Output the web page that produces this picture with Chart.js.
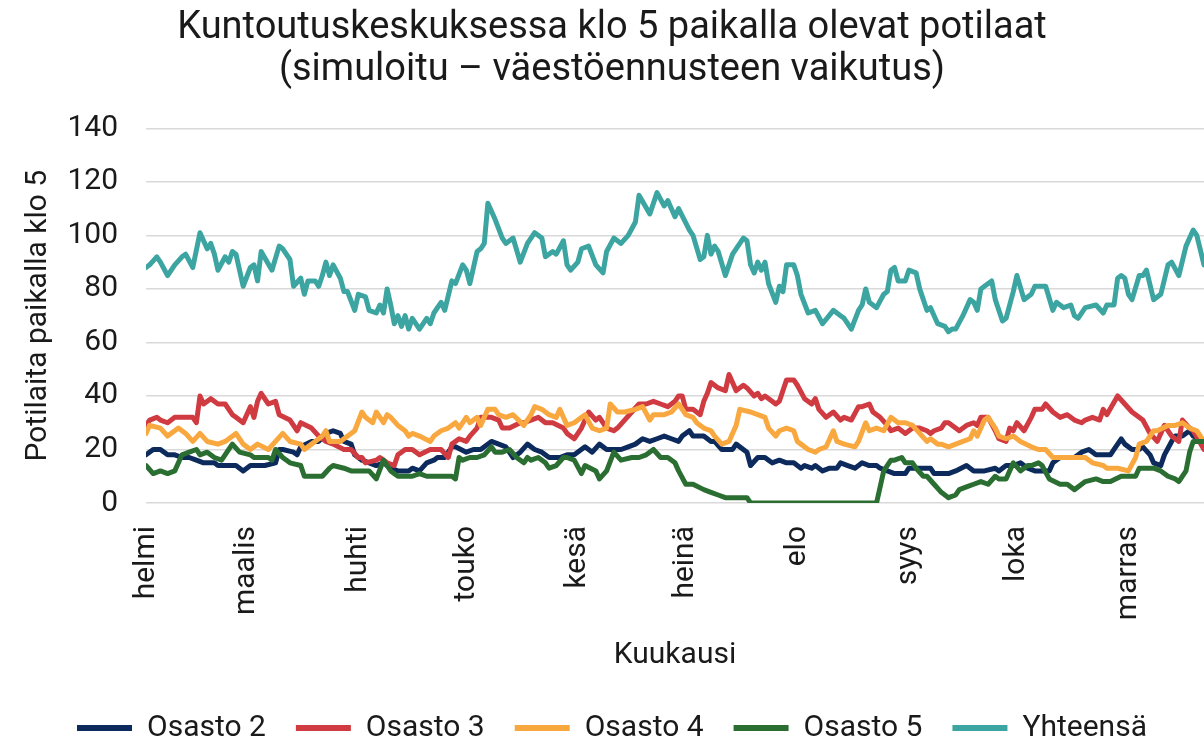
<!DOCTYPE html>
<html>
<head>
<meta charset="utf-8">
<script src="https://cdn.jsdelivr.net/npm/chart.js@4.4.1/dist/chart.umd.min.js"></script>
<style>
  html, body { margin: 0; padding: 0; background: #fff; }
  #wrap { width: 1204px; height: 744px; }
</style>
</head>
<body>
<div id="wrap"><canvas id="myChart" width="1204" height="744"></canvas></div>
<script>
// x = day counted from 1 Feb (0 = helmikuun 1. päivä)
const monthStarts = [0, 28, 59, 89, 120, 150, 181, 212, 242, 273];
const monthNames = ['helmi', 'maalis', 'huhti', 'touko', 'kesä', 'heinä', 'elo', 'syys', 'loka', 'marras'];

// Osasto 2
const days2 = [0,2,4,6,8,10,12,14,16,17,19,20,23,25,27,29,31,33,36,37,38,41,42,43,46,48,50,52,54,55,57,58,60,62,64,66,68,70,73,74,76,78,80,81,83,85,86,89,91,93,96,98,100,102,104,106,108,110,112,115,117,119,122,124,126,128,130,132,134,136,138,140,142,144,146,148,149,151,152,154,155,157,158,160,162,163,164,167,168,170,172,173,174,176,178,180,182,183,185,186,188,190,192,193,195,197,199,201,203,204,206,208,211,212,214,216,218,219,221,223,225,228,230,231,233,236,237,239,241,243,245,247,249,251,252,254,256,258,260,262,264,266,268,269,271,272,274,276,277,279,280,282,283,285,286,288,290,291,294];
const osasto2 = [18,20,20,18,18,17,17,16,15,15,15,14,14,14,12,14,14,14,15,20,20,19,18,21,23,23,26,27,26,23,22,18,16,15,14,15,13,12,12,13,12,15,16,17,17,21,21,19,20,20,23,22,21,17,19,22,20,19,17,17,18,18,21,19,22,20,20,20,21,22,24,23,24,25,24,23,25,27,25,25,25,23,23,20,20,20,22,19,14,17,17,16,15,16,15,15,13,14,13,14,12,13,13,15,14,13,15,14,14,13,12,11,11,13,13,13,13,11,11,11,12,14,12,12,12,13,12,14,14,15,13,12,12,12,15,17,17,17,19,20,18,18,18,20,24,22,20,20,21,18,15,14,18,23,25,25,27,25,23];

// Osasto 3
const days3 = [0,1,3,4,6,8,11,13,14,15,16,18,20,22,24,25,27,29,30,31,32,34,36,37,40,42,43,46,48,50,52,55,57,59,60,61,64,65,67,69,70,71,72,74,76,79,82,84,85,87,89,90,92,93,96,98,99,101,104,105,107,109,111,113,116,117,119,121,123,125,126,128,130,131,133,135,137,139,141,143,145,147,148,149,150,152,154,155,156,157,159,161,162,164,166,167,169,170,171,172,174,175,176,178,180,181,183,185,186,187,189,191,193,194,196,198,199,201,202,204,206,207,209,211,213,215,217,218,219,221,222,223,226,228,230,231,232,234,236,237,239,240,241,242,244,246,247,249,250,252,254,256,258,260,261,263,265,266,267,270,272,274,277,279,281,283,285,287,288,290,291,294];
const osasto3 = [29,31,32,31,30,32,32,32,30,40,37,39,37,37,33,32,30,36,32,38,41,37,38,33,31,27,30,28,25,23,22,20,20,17,17,15,16,17,15,14,18,19,20,20,18,20,20,17,22,24,23,25,28,32,32,31,28,28,30,30,31,32,30,30,28,26,24,28,34,31,32,28,27,28,31,34,37,37,38,37,36,38,40,40,35,35,33,38,41,45,43,42,48,42,44,43,40,41,39,40,38,37,38,46,46,44,39,37,39,35,32,34,31,32,31,36,36,37,34,32,29,27,28,26,28,28,27,26,27,28,30,30,27,29,30,29,32,32,27,24,23,28,27,30,27,32,35,35,37,34,32,33,31,30,31,32,31,35,33,40,37,34,31,26,23,29,25,23,31,28,27,20];

// Osasto 4
const days4 = [0,1,4,6,9,11,13,15,17,20,22,25,27,29,31,34,36,38,40,43,44,46,47,49,50,51,54,55,57,58,60,61,63,64,66,67,68,70,72,73,74,76,79,80,82,84,86,87,89,90,92,93,95,97,98,100,102,105,107,108,110,112,114,115,117,119,122,124,126,128,129,131,133,136,138,140,141,144,146,148,150,152,153,155,157,158,160,162,164,165,168,170,172,173,175,176,178,180,181,182,184,186,187,189,191,192,194,197,198,200,201,203,205,207,209,211,213,215,217,218,220,221,223,225,227,229,230,231,233,234,236,237,239,241,243,246,248,250,252,255,257,261,263,266,267,270,273,275,276,278,280,281,284,286,288,290,292,294];
const osasto4 = [26,29,28,25,28,26,23,26,23,22,23,26,22,20,22,20,23,26,23,22,20,22,23,25,27,23,23,24,26,27,34,32,30,34,30,33,32,29,27,25,26,25,23,25,27,28,30,28,32,30,32,29,35,35,33,32,33,29,33,36,35,33,32,35,29,30,33,28,27,28,37,34,34,35,36,31,33,33,34,37,33,32,30,28,27,25,22,23,29,35,34,33,32,28,25,27,28,27,23,22,20,19,20,21,27,23,22,21,23,30,27,28,27,32,30,30,29,26,23,24,22,22,21,22,23,24,27,25,31,32,28,25,24,25,23,21,20,20,17,17,17,17,15,14,13,13,12,17,22,23,27,27,29,29,30,28,27,23];

// Osasto 5
const days5 = [0,2,4,6,8,10,12,14,15,17,19,21,23,24,26,29,30,32,34,35,36,38,40,43,44,47,49,51,52,55,57,60,62,64,66,68,70,74,76,78,80,83,85,86,87,88,90,92,94,96,97,99,101,103,105,106,107,109,111,112,114,116,117,119,121,122,125,126,128,130,132,135,137,139,141,143,145,147,148,150,152,155,157,159,161,167,168,203,204,205,207,208,210,211,213,214,216,217,219,221,223,225,226,228,230,232,234,236,237,239,241,243,245,246,248,249,251,254,256,258,260,261,264,266,268,271,273,275,276,278,280,282,284,286,287,289,290,291,294];
const osasto5 = [14,11,12,11,12,18,19,20,18,19,17,16,20,22,19,18,17,17,17,16,20,17,15,14,10,10,10,13,14,13,12,12,12,9,16,12,10,10,11,10,10,10,10,9,17,16,17,17,18,21,19,19,20,17,15,17,16,17,15,13,14,17,17,16,11,14,12,9,12,19,16,17,17,18,20,17,17,15,12,7,7,5,4,3,2,2,0,0,6,12,16,16,17,15,15,13,10,10,7,4,2,3,5,6,7,8,7,10,9,9,15,12,14,14,15,14,9,7,7,5,7,8,9,8,8,10,10,10,13,13,13,12,10,9,8,12,19,23,23];

// Yhteensä
const daysTotal = [0,1,3,4,6,8,10,11,13,15,17,18,19,20,22,23,24,25,27,29,30,31,32,35,37,38,40,41,43,44,45,47,48,49,50,51,52,54,55,56,58,59,61,62,64,65,66,67,68,69,70,71,72,73,74,76,78,79,80,82,83,85,86,88,89,90,92,93,94,95,97,99,100,102,104,106,108,110,111,113,114,116,117,118,120,121,123,125,127,128,130,132,134,136,137,140,142,144,145,147,148,151,152,154,155,156,157,158,159,161,163,166,167,168,169,170,171,172,173,175,176,177,178,180,181,182,184,186,188,191,193,194,196,198,199,200,201,203,205,206,207,208,209,211,212,214,215,217,218,220,222,223,224,225,227,229,230,231,232,233,235,236,238,239,241,242,244,246,247,250,252,253,255,257,258,259,261,264,266,267,269,270,271,272,273,274,276,277,278,280,282,284,285,287,289,291,292,294];
const yhteensa = [88,89,92,90,85,89,92,93,88,101,95,97,93,87,92,90,94,93,81,88,89,83,94,87,96,95,91,81,84,78,83,83,81,85,90,85,89,84,79,79,72,78,77,72,71,74,71,80,74,67,70,66,70,65,69,65,69,67,71,75,72,83,82,89,87,82,94,95,97,112,106,99,97,99,90,97,101,99,92,94,93,98,89,87,90,95,96,89,86,94,99,97,100,105,115,108,116,111,113,107,110,102,100,91,92,100,93,96,94,85,93,99,98,89,86,90,87,90,82,75,81,79,89,89,85,78,71,72,67,72,70,69,65,72,74,80,75,73,78,79,87,88,83,83,87,86,80,72,73,67,66,64,65,65,70,76,75,72,80,81,83,76,68,69,79,85,76,78,81,81,72,75,73,74,70,69,73,74,71,74,74,84,85,84,78,76,85,85,87,76,78,89,90,85,96,102,100,89];

function points(days, vals) {
  return days.map((d, i) => ({ x: d, y: vals[i] }));
}

const font = { family: 'Roboto', size: 30 };
Chart.defaults.font.family = 'Roboto';
Chart.defaults.color = '#1a1a1a';

function line(label, days, vals, color, order) {
  return {
    label: label,
    data: points(days, vals),
    borderColor: color,
    backgroundColor: color,
    borderWidth: 5,
    pointRadius: 0,
    tension: 0,
    borderJoinStyle: 'round',
    borderCapStyle: 'round',
    order: order // Excel draws later series on top
  };
}

const ctx = document.getElementById('myChart').getContext('2d');
new Chart(ctx, {
  type: 'line',
  data: {
    datasets: [
      line('Osasto 2', days2, osasto2, '#0c2a5c', 5),
      line('Osasto 3', days3, osasto3, '#cf3b41', 4),
      line('Osasto 4', days4, osasto4, '#f8a83f', 3),
      line('Osasto 5', days5, osasto5, '#2a6e31', 2),
      line('Yhteensä', daysTotal, yhteensa, '#3ca5a1', 1)
    ]
  },
  options: {
    responsive: false,
    animation: false,
    devicePixelRatio: 1,
    layout: { padding: { left: 20, right: 0, top: 0, bottom: -9 } },
    plugins: {
      title: {
        display: true,
        text: ['Kuntoutuskeskuksessa klo 5 paikalla olevat potilaat', '(simuloitu – väestöennusteen vaikutus)'],
        font: { family: 'Roboto', size: 38, weight: 'normal', lineHeight: 1.11 },
        color: '#1a1a1a',
        padding: { top: 7, bottom: 37 }
      },
      legend: {
        position: 'bottom',
        labels: {
          font: font,
          boxWidth: 55,
          boxHeight: 6,
          padding: 30,
          sort: (a, b) => a.datasetIndex - b.datasetIndex,
          generateLabels: chart => Chart.defaults.plugins.legend.labels.generateLabels(chart)
            .map(l => Object.assign(l, { lineWidth: 0 }))
        }
      },
      tooltip: { enabled: false }
    },
    scales: {
      x: {
        type: 'linear',
        min: 0,
        max: 294,
        afterBuildTicks: axis => { axis.ticks = monthStarts.map(v => ({ value: v })); },
        afterFit: axis => { axis.height = 180; },
        ticks: {
          autoSkip: false,
          maxRotation: 90,
          minRotation: 90,
          padding: 15,
          font: font,
          callback: (v, i) => monthNames[i]
        },
        grid: { display: false },
        border: { display: false },
        title: { display: true, text: 'Kuukausi', font: font, padding: { top: 0, bottom: 10 } }
      },
      y: {
        min: 0,
        max: 140,
        afterFit: axis => { axis.width = 126; },
        ticks: { stepSize: 20, padding: 28, font: font },
        grid: { color: '#d9d9d9', lineWidth: 1.5, drawTicks: false },
        border: { display: false },
        title: { display: true, text: 'Potilaita paikalla klo 5', font: font, padding: { top: 0, bottom: 0 } }
      }
    }
  }
});
</script>
</body>
</html>
